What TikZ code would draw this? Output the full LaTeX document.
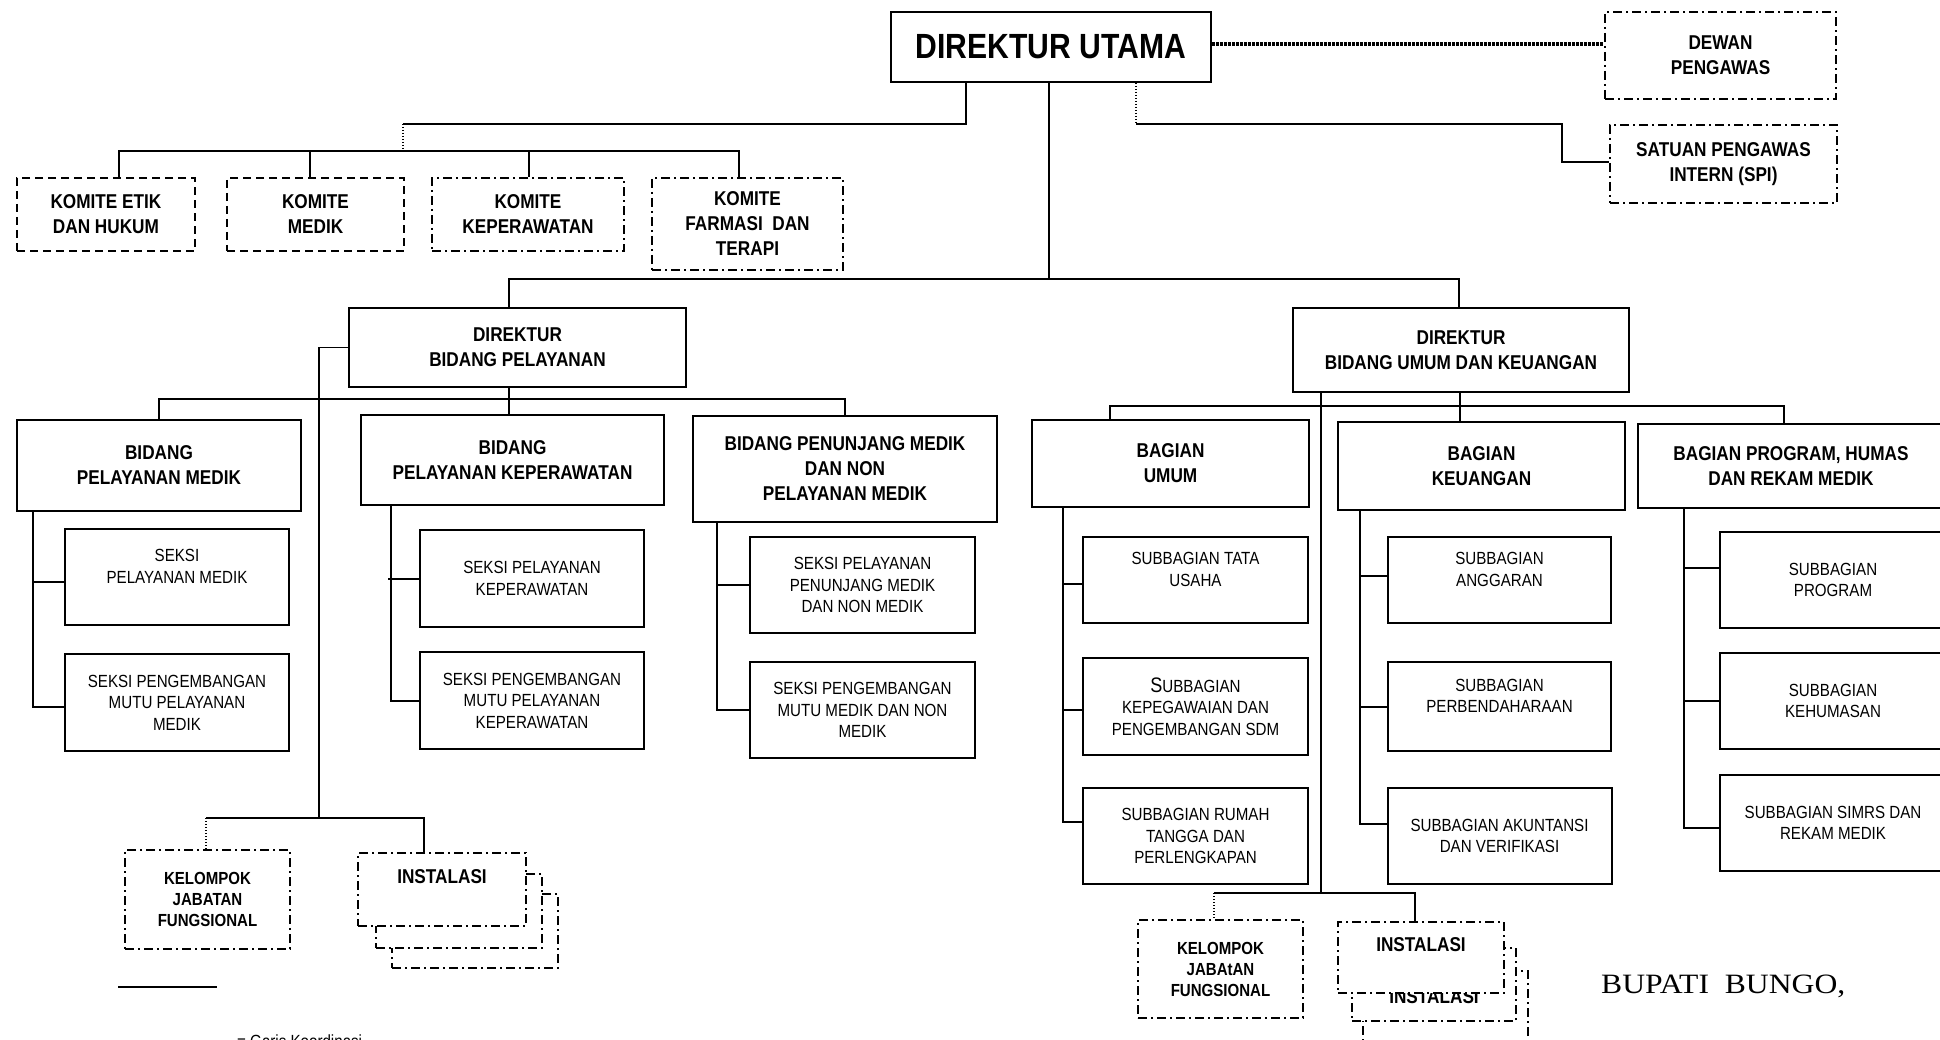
\documentclass[tikz,border=0pt]{standalone}
\usepackage{fontspec}
\setmainfont[FakeStretch=0.86]{Liberation Sans}
\newfontfamily\bupatifont[FakeStretch=1.13]{Liberation Serif}
\usepackage{tikz}
\usetikzlibrary{positioning}

\begin{document}
\begin{tikzpicture}[x=1pt,y=-1pt,
      node distance=25pt,
      box/.style={draw,line width=2pt,fill=white,align=center,inner sep=2pt,anchor=north west,font=\fontsize{20}{25}\selectfont\bfseries},
      sub/.style={box,font=\fontsize{17.6}{21.5}\selectfont},
      dbox/.style={box,dash pattern=on 8pt off 5pt},
      ddbox/.style={box,dash pattern=on 9pt off 4pt on 2pt off 4pt},
      kbox/.style={ddbox,font=\fontsize{17.5}{21}\selectfont\bfseries},
      sz/.style n args={2}{minimum width=#1pt,minimum height=#2pt},
      ln/.style={line width=2pt},
      thinln/.style={line width=1.3pt},
      dotln/.style={line width=1.3pt,dash pattern=on 1.3pt off 1.7pt}
    ]
    \useasboundingbox (0,0) rectangle (1940,1040);

    \node[box,sz={320}{70},font=\fontsize{35}{40}\selectfont\bfseries] (du) at (890,11) {DIREKTUR UTAMA};
    \node[ddbox,sz={231}{87}] (dewan) at (1604,11) {DEWAN\\PENGAWAS};
    \node[ddbox,sz={227}{78}] (spi) at (1609,124) {SATUAN PENGAWAS\\INTERN (SPI)};

    \node[dbox,sz={178}{73}] (ketik) at (16,177) {KOMITE ETIK\\DAN HUKUM};
    \node[dbox,sz={177}{73}] (kmedik) at (226,177) {KOMITE\\MEDIK};
    \node[ddbox,sz={192}{73}] (kkep) at (431,177) {KOMITE\\KEPERAWATAN};
    \node[ddbox,sz={191}{92}] (kfarm) at (651,177) {KOMITE\\FARMASI~ DAN\\TERAPI};

    \node[box,sz={337}{79}] (dbp) at (348,307) {DIREKTUR\\BIDANG PELAYANAN};
    \node[box,sz={336}{84}] (duk) at (1292,307) {DIREKTUR\\BIDANG UMUM DAN KEUANGAN};

    \node[box,sz={284}{91}] (bpm) at (16,419) {BIDANG\\PELAYANAN MEDIK};
    \node[box,sz={303}{90}] (bpk) at (360,414) {BIDANG\\PELAYANAN KEPERAWATAN};
    \node[box,sz={304}{106}] (bpmn) at (692,415) {BIDANG PENUNJANG MEDIK\\DAN NON\\PELAYANAN MEDIK};

    \node[sub,sz={224}{96}] (s1) at (64,528) {SEKSI\\PELAYANAN MEDIK\\~};
    \node[sub,sz={224}{97},below=27pt of s1] (s2) {SEKSI PENGEMBANGAN\\MUTU PELAYANAN\\MEDIK};
    \node[sub,sz={224}{97}] (s3) at (419,529) {SEKSI PELAYANAN\\KEPERAWATAN};
    \node[sub,sz={224}{97},below=23pt of s3] (s4) {SEKSI PENGEMBANGAN\\MUTU PELAYANAN\\KEPERAWATAN};
    \node[sub,sz={225}{96}] (s5) at (749,536) {SEKSI PELAYANAN\\PENUNJANG MEDIK\\DAN NON MEDIK};
    \node[sub,sz={225}{96},below=27pt of s5] (s6) {SEKSI PENGEMBANGAN\\MUTU MEDIK DAN NON\\MEDIK};

    \node[box,sz={277}{87}] (bu) at (1031,419) {BAGIAN\\UMUM};
    \node[box,sz={287}{88}] (bk) at (1337,421) {BAGIAN\\KEUANGAN};
    \node[box,sz={306}{84}] (bp) at (1637,423) {BAGIAN PROGRAM, HUMAS\\DAN REKAM MEDIK};

    \node[sub,sz={225}{86}] (u1) at (1082,536) {SUBBAGIAN TATA\\USAHA\\~};
    \node[sub,sz={225}{97},below=33pt of u1] (u2) {{\fontsize{21}{21}\selectfont S}UBBAGIAN\\KEPEGAWAIAN DAN\\PENGEMBANGAN SDM};
    \node[sub,sz={225}{96},below=31pt of u2] (u3) {SUBBAGIAN RUMAH\\TANGGA DAN\\PERLENGKAPAN};
    \node[sub,sz={223}{86}] (bk1) at (1387,536) {SUBBAGIAN\\ANGGARAN\\~};
    \node[sub,sz={223}{89},below=37pt of bk1] (bk2) {SUBBAGIAN\\PERBENDAHARAAN\\~};
    \node[sub,sz={224}{96},below=35pt of bk2] (bk3) {SUBBAGIAN AKUNTANSI\\DAN VERIFIKASI};
    \node[sub,sz={226}{96}] (bp1) at (1719,531) {SUBBAGIAN\\PROGRAM};
    \node[sub,sz={226}{96},below=23pt of bp1] (bp2) {SUBBAGIAN\\KEHUMASAN};
    \node[sub,sz={226}{96},below=24pt of bp2] (bp3) {SUBBAGIAN SIMRS DAN\\REKAM MEDIK};

    \node[kbox,sz={165}{99}] (kjf1) at (124,849) {KELOMPOK\\JABATAN\\FUNGSIONAL};
    \node[ddbox,sz={166}{74}] (ins1c) at (391,893) {};
    \node[ddbox,sz={166}{74}] (ins1b) at (375,873) {};
    \node[ddbox,sz={168}{73}] (ins1a) at (357,852) {INSTALASI\\~};

    \node[kbox,sz={165}{98}] (kjf2) at (1137,919) {KELOMPOK\\JABAtAN\\FUNGSIONAL};
    \node[ddbox,sz={165}{90}] (ins2c) at (1362,970) {};
    \node[ddbox,sz={164}{73}] (ins2b) at (1351,947) {\vphantom{I}\\INSTALASI};
    \node[ddbox,sz={166}{71}] (ins2a) at (1337,921) {INSTALASI\\~};

    \node[anchor=base west,inner sep=0pt,font=\bupatifont\fontsize{28}{28}\selectfont] (bupati) at (1601,993) {BUPATI~~BUNGO,};

    \coordinate (legA) at (118,987);
    \coordinate (legB) at (217,987);
    \draw[ln] (legA) -- (legB);
    \node[anchor=base west,inner sep=0pt,font=\fontsize{17.6}{20}\selectfont] (legtxt) at (237,1047) {= Garis Koordinasi};

    \draw[line width=3.5pt,dash pattern=on 2.5pt off 1.5pt] ([yshift=3pt]du.east) -- ([yshift=3pt]du.east -| dewan.west);
    \coordinate (spiA) at (1136,124);
    \coordinate (spiB) at (1562,124);
    \draw[dotln] (du.south -| spiA) -- (spiA);
    \draw[ln] (spiA) -- (spiB) |- ([yshift=2pt]spi.west);

    \coordinate (komA) at (966,124);
    \coordinate (komB) at (403,124);
    \coordinate (komC) at (403,151);
    \draw[ln] (du.south -| komA) -- (komA) -- (komB);
    \draw[dotln] (komB) -- (komC);
    \foreach \n/\x in {ketik/119,kmedik/310,kkep/529,kfarm/739}
      \draw[ln] (\n.north -| \x,0) |- (komC);

    \coordinate (mainC) at (1049,279);
    \draw[thinln] (du.south -| mainC) -- (mainC);
    \draw[ln] (dbp.north -| 509,0) |- (mainC) -| (duk.north -| 1459,0);

    \coordinate (fpC) at (319,818);
    \coordinate (fpL) at (206,818);
    \draw[thinln] (dbp.west) -| (fpC);
    \draw[ln] (fpL) -- (fpC) -| (ins1a.north -| 424,0);
    \draw[dotln] (fpL) -- (kjf1.north -| fpL);

    \coordinate (bidC) at (509,399);
    \draw[ln] (dbp.south -| bidC) -- (bidC);
    \draw[ln] (bpm.north) |- (bidC) -| (bpmn.north);
    \draw[ln] (bidC) -- (bpk.north -| bidC);

    \coordinate (bagC) at (1460,406);
    \draw[ln] (duk.south -| bagC) -- (bagC);
    \draw[ln] (bu.north -| 1110,0) |- (bagC) -| (bp.north -| 1784,0);
    \draw[ln] (bagC) -- (bk.north -| bagC);

    \coordinate (ufC) at (1321,893);
    \coordinate (ufL) at (1214,893);
    \draw[thinln] (duk.south -| ufC) -- (ufC);
    \draw[ln] (ufL) -- (ufC) -| (ins2a.north -| 1415,0);
    \draw[dotln] (ufL) -- (kjf2.north -| ufL);

    \draw[ln] (bpm.south -| 33,0) |- ([yshift=-4pt]s2.west);
    \draw[ln] ([yshift=-5pt]s1.west) -- +(-31,0);
    \draw[ln] (bpk.south -| 391,0) |- (s4.west);
    \draw[ln] (s3.west) -- +(-31,0);
    \draw[ln] (bpmn.south -| 717,0) |- (s6.west);
    \draw[ln] (s5.west) -- +(-32,0);

    \draw[ln] (bu.south -| 1063,0) |- ([yshift=14pt]u3.west);
    \draw[ln] ([yshift=-4pt]u1.west) -- +(-19,0);
    \draw[ln] ([yshift=-3pt]u2.west) -- +(-19,0);
    \draw[ln] (bk.south -| 1360,0) |- ([yshift=12pt]bk3.west);
    \draw[ln] ([yshift=4pt]bk1.west) -- +(-27,0);
    \draw[ln] (bk2.west) -- +(-27,0);
    \draw[ln] (bp.south -| 1684,0) |- ([yshift=-5pt]bp3.west);
    \draw[ln] ([yshift=12pt]bp1.west) -- +(-35,0);
    \draw[ln] (bp2.west) -- +(-35,0);
  \end{tikzpicture}
\end{document}
